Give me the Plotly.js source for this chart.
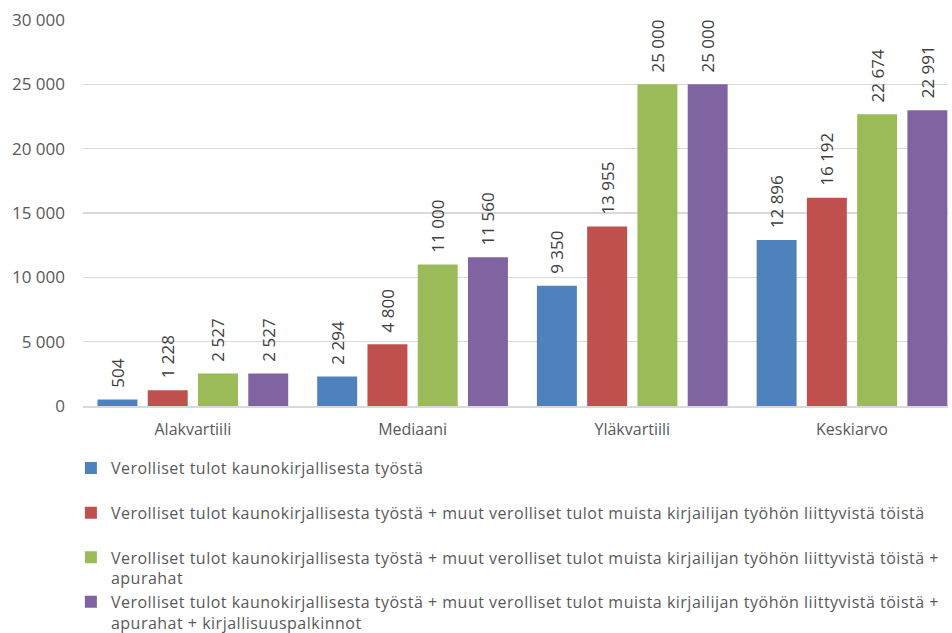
<!DOCTYPE html>
<html><head><meta charset="utf-8">
<script src="https://cdn.plot.ly/plotly-3.0.1.min.js"></script>
<style>body{margin:0;background:#fff}#c{width:952px;height:633px}
.legendtext{letter-spacing:0.5px}</style>
</head><body><div id="c"></div>
<script>
var categories = ["Alakvartiili", "Mediaani", "Yläkvartiili", "Keskiarvo"];
var seriesNames = [
  "Verolliset tulot kaunokirjallisesta työstä<br> ",
  "Verolliset tulot kaunokirjallisesta työstä + muut verolliset tulot muista kirjailijan työhön liittyvistä töistä<br> ",
  "Verolliset tulot kaunokirjallisesta työstä + muut verolliset tulot muista kirjailijan työhön liittyvistä töistä +<br>apurahat",
  "Verolliset tulot kaunokirjallisesta työstä + muut verolliset tulot muista kirjailijan työhön liittyvistä töistä +<br>apurahat + kirjallisuuspalkinnot"
];
var s1 = [504, 2294, 9350, 12896];
var s2 = [1228, 4800, 13955, 16192];
var s3 = [2527, 11000, 25000, 22674];
var s4 = [2527, 11560, 25000, 22991];
var colors = ["#4F81BD", "#C0504D", "#9BBB59", "#8064A2"];

var FONT = "'Open Sans', sans-serif";
var allSeries = [s1, s2, s3, s4];
var traces = allSeries.map(function(vals, i){
  return {
    type: "bar", x: categories, y: vals, name: seriesNames[i],
    marker: {color: colors[i]},
    texttemplate: "\u00a0\u00a0%{y:,}", textposition: "outside", textangle: -90,
    constraintext: "none", cliponaxis: false,
    textfont: {family: FONT, size: 17, color: "#404040"},
    hoverinfo: "none"
  };
});
var layout = {
  width: 952, height: 633,
  margin: {l: 83, r: 4, t: 20, b: 227, autoexpand: false},
  separators: ", ",
  barmode: "group", bargap: 0.085, bargroupgap: 0.205,
  paper_bgcolor: "#fff", plot_bgcolor: "#fff",
  font: {family: FONT, size: 16, color: "#595959"},
  xaxis: {range: [-0.5, 3.437], showgrid: false, showline: true, linecolor: "#D9D9D9", linewidth: 1.5,
          ticks: "", ticklabelstandoff: 8, tickfont: {size: 16, color: "#595959"}},
  yaxis: {range: [0, 30000], dtick: 5000, tickformat: ",d", showgrid: true,
          gridcolor: "#D9D9D9", gridwidth: 1.5, zeroline: false, showline: false,
          ticks: "", ticklabelstandoff: 17, tickfont: {size: 17, color: "#595959"}},
  showlegend: true,
  legend: {orientation: "v", x: -0.014, xanchor: "left", y: -0.117, yanchor: "top",
           valign: "top", font: {size: 16, color: "#595959"}, traceorder: "normal",
           itemclick: false, bgcolor: "rgba(0,0,0,0)"}
};
Plotly.newPlot("c", traces, layout, {displayModeBar: false, staticPlot: true});
</script>
</body></html>
